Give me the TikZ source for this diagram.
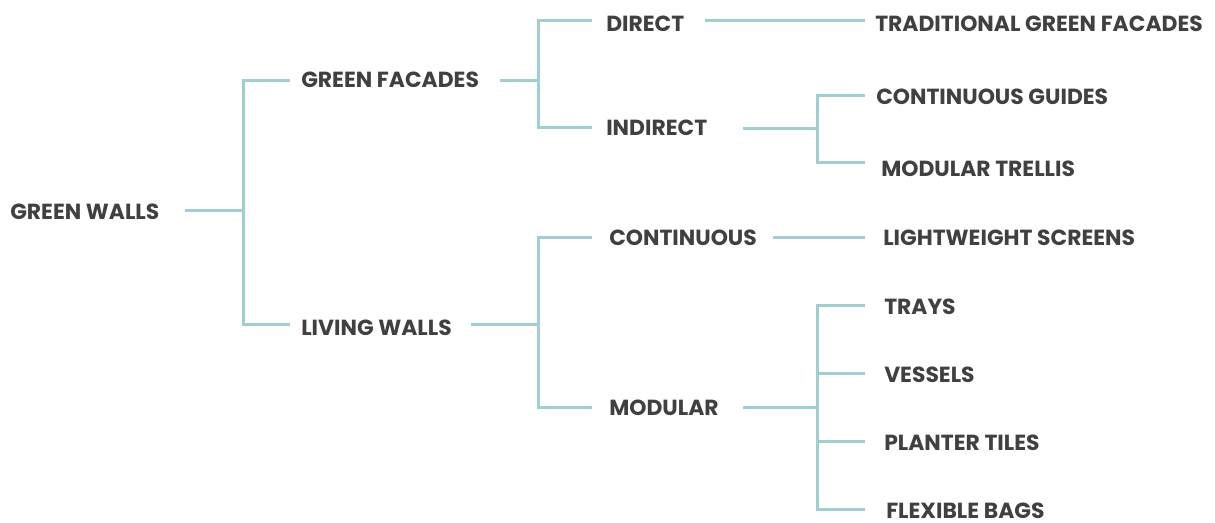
\documentclass[tikz,border=0pt]{standalone}
\usepackage{fontspec}
\setmainfont{Poppins}
\usepackage{tikz}
\definecolor{labelgray}{HTML}{404040}
\definecolor{branchteal}{HTML}{9FCFD2}

\begin{document}
\begin{tikzpicture}[
        x=0.75pt, y=-0.75pt,
        item/.style={font=\bfseries\fontsize{16.4}{18}\selectfont, text=labelgray, inner sep=0pt, anchor=west},
        branch/.style={draw=branchteal, line width=2.25pt}
    ]
        \useasboundingbox (0,0) rectangle (1215,522);

        % labels, left to right
        \node[item] (walls) at (10,212) {GREEN WALLS};
        \node[item] (facades) at (301,80) {GREEN FACADES};
        \node[item] (living) at (301,328) {LIVING WALLS};
        \node[item] (direct) at (606,24) {DIRECT};
        \node[item] (indirect) at (606,128) {INDIRECT};
        \node[item] (continuous) at (609,238) {CONTINUOUS};
        \node[item] (modular) at (609,408) {MODULAR};
        \node[item] (traditional) at (875,24) {TRADITIONAL GREEN FACADES};
        \node[item] (guides) at (876,97) {CONTINUOUS GUIDES};
        \node[item] (trellis) at (881,169) {MODULAR TRELLIS};
        \node[item] (screens) at (883,238) {LIGHTWEIGHT SCREENS};
        \node[item] (trays) at (884,307) {TRAYS};
        \node[item] (vessels) at (884,375) {VESSELS};
        \node[item] (tiles) at (884,443) {PLANTER TILES};
        \node[item] (bags) at (886,511) {FLEXIBLE BAGS};

        % connector ends and forks
        \coordinate (walls-out) at (185,210);
        \coordinate (walls-fork) at (243,210);
        \coordinate (facades-in) at (290,80);
        \coordinate (living-in) at (290,324);
        \coordinate (facades-out) at (500,80);
        \coordinate (facades-fork) at (538,80);
        \coordinate (direct-in) at (592,20);
        \coordinate (indirect-in) at (592,127);
        \coordinate (living-out) at (471,324);
        \coordinate (living-fork) at (538,324);
        \coordinate (continuous-in) at (592,237);
        \coordinate (modular-in) at (592,407);
        \coordinate (direct-out) at (705,20);
        \coordinate (traditional-in) at (865,20);
        \coordinate (indirect-out) at (743,128);
        \coordinate (indirect-fork) at (817,128);
        \coordinate (guides-in) at (865,95);
        \coordinate (trellis-in) at (865,162);
        \coordinate (continuous-out) at (773,237);
        \coordinate (screens-in) at (865,237);
        \coordinate (modular-out) at (743,407);
        \coordinate (modular-fork) at (817,407);
        \coordinate (trays-in) at (865,305);
        \coordinate (vessels-in) at (865,373);
        \coordinate (tiles-in) at (865,441);
        \coordinate (bags-in) at (865,509);

        \draw[branch] (walls-out) -- (walls-fork);
        \draw[branch] (facades-in) -| (walls-fork) |- (living-in);
        \draw[branch] (facades-out) -- (facades-fork);
        \draw[branch] (direct-in) -| (facades-fork) |- (indirect-in);
        \draw[branch] (living-out) -- (living-fork);
        \draw[branch] (continuous-in) -| (living-fork) |- (modular-in);
        \draw[branch] (direct-out) -- (traditional-in);
        \draw[branch] (indirect-out) -- (indirect-fork);
        \draw[branch] (guides-in) -| (indirect-fork) |- (trellis-in);
        \draw[branch] (continuous-out) -- (screens-in);
        \draw[branch] (modular-out) -- (modular-fork);
        \draw[branch] (trays-in) -| (modular-fork) |- (bags-in);
        \draw[branch] (vessels-in) -| (modular-fork);
        \draw[branch] (tiles-in) -| (modular-fork);
    \end{tikzpicture}
\end{document}
